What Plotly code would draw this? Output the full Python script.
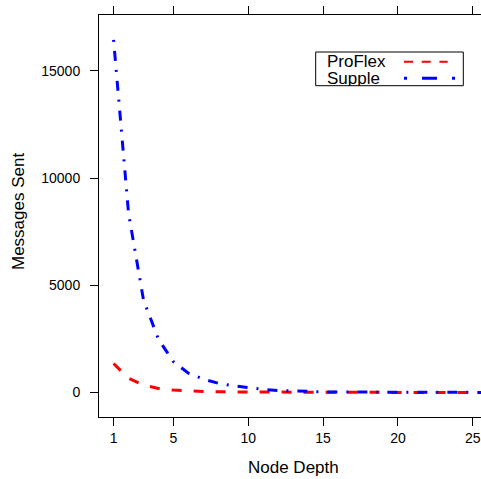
import plotly.graph_objects as go

# ---- data ----
node_depth = list(range(1, 27))
proflex = [1350, 660, 350, 190, 112, 72, 47, 33, 25, 20, 16, 13, 11, 9, 8, 7, 6, 5, 5, 4, 4, 3, 3, 3, 2, 2]
supple = [16440, 8350, 4310, 2480, 1430, 900, 625, 430, 310, 225, 145, 95, 62, 42, 30, 22, 17, 13, 10, 8, 7, 6, 5, 4, 4, 3]
x_ticks = [1, 5, 10, 15, 20, 25]
y_ticks = [0, 5000, 10000, 15000]
series_names = ["ProFlex", "Supple"]
series_colors = ["#ff0000", "#0000ff"]

FONT = "Liberation Sans, Arial, Helvetica, sans-serif"
W, H = 481, 479
ML, MR, MT, MB = 99, 0, 15, 62
PW, PH = W - ML - MR, H - MT - MB


def px(xp):
    return (xp - ML) / PW


def py(yp):
    return (H - MB - yp) / PH


fig = go.Figure()
fig.add_trace(go.Scatter(x=node_depth, y=proflex, mode="lines", name=series_names[0],
                         line=dict(color=series_colors[0], width=3, dash="10px,12px")))
fig.add_trace(go.Scatter(x=node_depth, y=supple, mode="lines", name=series_names[1],
                         line=dict(color=series_colors[1], width=3, dash="2px,9px,10px,9px")))

fig.update_layout(
    width=W, height=H,
    margin=dict(l=ML, r=MR, t=MT, b=MB, pad=0, autoexpand=False),
    paper_bgcolor="white", plot_bgcolor="white",
    showlegend=False,
    font=dict(family=FONT, size=14, color="black"),
    xaxis=dict(range=[0.025, 25.55], tickvals=x_ticks, ticktext=[str(v) for v in x_ticks],
               ticks="outside", ticklen=8, tickwidth=1, tickcolor="black",
               showline=True, linecolor="black", linewidth=1, mirror="ticks",
               showgrid=False, zeroline=False, automargin=False,
               tickfont=dict(size=14, family=FONT)),
    yaxis=dict(range=[-1143, 17603], tickvals=y_ticks, ticktext=[str(v) for v in y_ticks],
               ticks="outside", ticklen=8, tickwidth=1, tickcolor="black",
               showline=True, linecolor="black", linewidth=1, mirror=False,
               showgrid=False, zeroline=False, automargin=False, ticklabelstandoff=7,
               tickfont=dict(size=14, family=FONT)),
)

# axis titles
fig.add_annotation(text="Node Depth", xref="paper", yref="paper", x=px(293), y=py(467),
                   xanchor="center", yanchor="middle", showarrow=False,
                   font=dict(size=17, family=FONT, color="black"))
fig.add_annotation(text="Messages Sent", xref="paper", yref="paper", x=px(18.3), y=py(211.7),
                   xanchor="center", yanchor="middle", showarrow=False, textangle=-90,
                   font=dict(size=17, family=FONT, color="black"))

# legend (key box with text left, line sample right)
fig.add_shape(type="rect", xref="paper", yref="paper", x0=px(315.7), x1=px(463.3),
              y0=py(85.7), y1=py(52), line=dict(color="black", width=1), fillcolor="white")
legend_rows = [61.7, 78.3]
legend_dash = ["9px,8.7px", "3px,15px,15px,15px"]
legend_width = [2, 3]
legend_end = [447.7, 455]
for i, name in enumerate(series_names):
    fig.add_annotation(text=name, xref="paper", yref="paper", x=px(325.7), y=py(legend_rows[i]),
                       xanchor="left", yanchor="middle", showarrow=False, height=15,
                       borderpad=0,
                       font=dict(size=17, family=FONT, color="black"))
    fig.add_shape(type="line", xref="paper", yref="paper", x0=px(404), x1=px(legend_end[i]),
                  y0=py(legend_rows[i]), y1=py(legend_rows[i]),
                  line=dict(color=series_colors[i], width=legend_width[i], dash=legend_dash[i]))

fig.write_html("out.html", config={"displayModeBar": False},
               post_script="document.body.style.margin='0';document.body.style.overflow='hidden';")
